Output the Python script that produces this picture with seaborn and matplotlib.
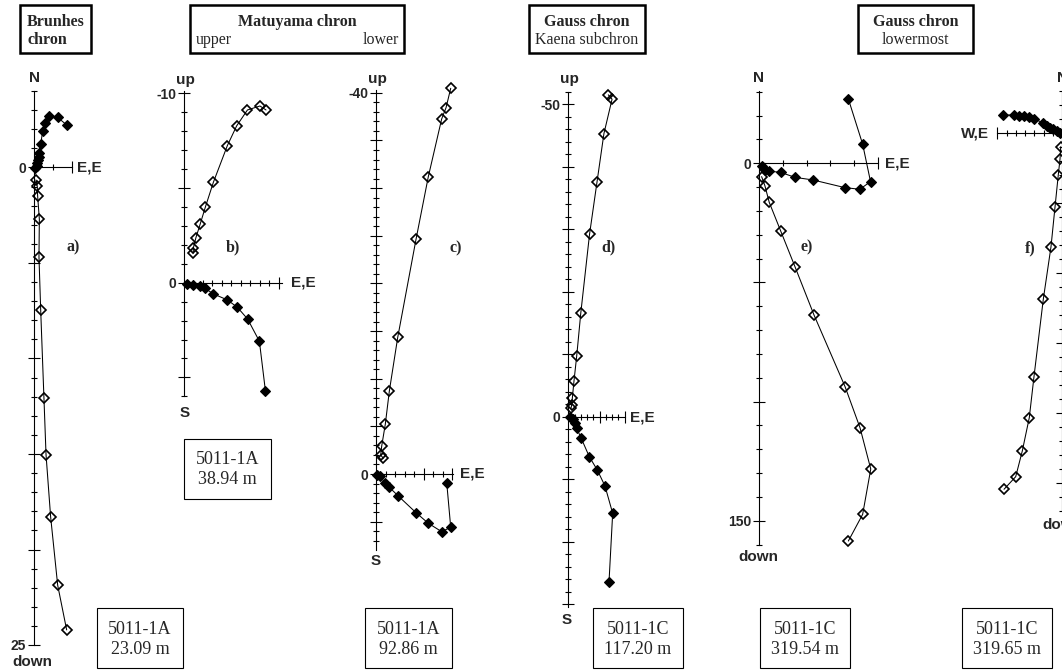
import matplotlib
matplotlib.use("Agg")
import matplotlib.pyplot as plt
from matplotlib.patches import Rectangle
from matplotlib.ticker import FixedLocator
import numpy as np
import seaborn as sns

sns.set_style("white")
plt.rcParams['font.family'] = ['Liberation Sans', 'DejaVu Sans']
SANS = 'Liberation Sans'
SERIF = 'Liberation Serif'

# Zijderveld data, plotted frame: east to the right, y positive downwards
# (filled = horizontal projection, y = -N ; open = vertical projection, y = down)

# a) Brunhes chron, 5011-1A 23.09 m
a_fill_e = [0.05, 0.14, 0.17, 0.21, 0.25, 0.26, 0.35, 0.46, 0.55, 0.81, 1.24, 1.71]
a_fill_y = [0.04, -0.08, -0.22, -0.39, -0.57, -0.77, -1.23, -1.93, -2.35, -2.68, -2.62, -2.23]
a_open_e = [0.10, 0.17, 0.19, 0.28, 0.26, 0.35, 0.52, 0.63, 0.87, 1.24, 1.71]
a_open_y = [0.65, 0.97, 1.48, 2.71, 4.67, 7.46, 12.05, 15.04, 18.28, 21.87, 24.21]

# b) Matuyama upper, 5011-1A 38.94 m
b_fill_e = [0.15, 0.49, 0.84, 1.11, 1.55, 2.29, 2.82, 3.36, 3.98, 4.30]
b_fill_y = [0.05, 0.12, 0.17, 0.30, 0.59, 0.91, 1.30, 1.92, 3.09, 5.72]
b_open_e = [0.49, 0.49, 0.63, 0.85, 1.13, 1.55, 2.29, 2.78, 3.35, 4.01, 4.33]
b_open_y = [-1.56, -1.82, -2.38, -3.08, -4.00, -5.30, -7.24, -8.28, -9.12, -9.33, -9.12]

# c) Matuyama lower, 5011-1A 92.86 m
c_fill_e = [0.15, 0.42, 0.94, 1.40, 2.34, 4.20, 5.49, 6.89, 7.84, 7.42]
c_fill_y = [0.10, 0.21, 0.91, 1.40, 2.31, 4.06, 5.17, 6.05, 5.59, 0.91]
c_open_e = [0.77, 0.49, 0.60, 0.98, 1.40, 2.28, 4.20, 5.49, 6.89, 7.35, 7.84]
c_open_y = [-1.65, -1.99, -2.94, -5.25, -8.71, -14.34, -24.63, -31.2, -37.25, -38.44, -40.47]

# d) Gauss, Kaena subchron, 5011-1C 117.20 m
d_fill_e = [0.27, 0.70, 1.07, 1.34, 2.03, 3.36, 4.64, 5.87, 7.10, 6.51]
d_fill_y = [0.10, 0.42, 1.06, 1.86, 3.36, 6.40, 8.53, 11.09, 15.46, 26.5]
d_open_e = [0.43, 0.54, 0.64, 0.91, 1.35, 2.0, 3.4, 4.6, 5.7, 7.0, 6.4]
d_open_y = [-1.34, -1.87, -2.93, -5.71, -9.76, -16.6, -29.2, -37.6, -45.3, -50.8, -51.5]

# e) Gauss lowermost, 5011-1C 319.54 m
e_fill_e = [1.1, 2.5, 4.3, 9.1, 15.1, 22.7, 36.0, 42.3, 46.8, 43.5, 37.5]
e_fill_y = [1.0, 2.8, 3.3, 3.8, 5.9, 7.0, 10.2, 10.9, 7.7, -8.0, -27.0]
e_open_e = [1.1, 2.5, 4.3, 9.1, 15.1, 23.1, 36.1, 42.4, 46.9, 43.5, 37.5]
e_open_y = [5.6, 9.5, 16.4, 28.4, 43.4, 63.7, 93.7, 111.0, 128.3, 147.3, 158.5]

# f) Gauss lowermost, 5011-1C 319.65 m
f_fill_e = [-0.24, -0.71, -1.20, -1.67, -2.14, -2.71, -3.91, -4.63, -5.39, -6.10, -6.81, -8.34]
f_fill_y = [0.0, -0.24, -0.49, -0.71, -0.96, -1.43, -1.96, -2.20, -2.39, -2.43, -2.53, -2.53]
f_open_e = [-0.14, -0.24, -0.49, -0.96, -1.53, -2.63, -3.96, -4.63, -5.63, -6.57, -8.24]
f_open_y = [2.0, 3.76, 6.04, 10.66, 16.3, 23.8, 34.86, 40.71, 45.47, 49.14, 50.94]

panels = [
    dict(fe=a_fill_e, fy=a_fill_y, oe=a_open_e, oy_=a_open_y,
         ox=34, oy=167.5, s=19.1, v=(-4, 25), h=(0, 2),
         vmaj=np.arange(0, 26, 5), vmin=np.arange(-4, 26, 1),
         hmaj=[2], hmin=[1], vlab=[0, 25]),
    dict(fe=b_fill_e, fy=b_fill_y, oe=b_open_e, oy_=b_open_y,
         ox=184, oy=282.7, s=18.94, v=(-10.1, 6), h=(0, 5.15),
         vmaj=[-10, -5, 0, 5], vmin=np.arange(-10, 7, 1),
         hmaj=[5], hmin=np.arange(0.5, 5.0, 0.5), vlab=[-10, 0]),
    dict(fe=c_fill_e, fy=c_fill_y, oe=c_open_e, oy_=c_open_y,
         ox=376, oy=474, s=9.53, v=(-40.3, 7.95), h=(0, 8.05),
         vmaj=np.arange(-40, 8, 5), vmin=np.arange(-40, 8, 1),
         hmaj=[5, 8], hmin=np.arange(1, 8, 1), vlab=[-40, 0]),
    dict(fe=d_fill_e, fy=d_fill_y, oe=d_open_e, oy_=d_open_y,
         ox=568.3, oy=416.7, s=6.25, v=(-52, 30.4), h=(0, 9.1),
         vmaj=np.arange(-50, 31, 10), vmin=np.arange(-52, 31, 2),
         hmaj=[5, 9], hmin=np.arange(1, 9, 1), vlab=[-50, 0]),
    dict(fe=e_fill_e, fy=e_fill_y, oe=e_open_e, oy_=e_open_y,
         ox=759, oy=163.3, s=2.383, v=(-30.3, 160), h=(0, 50),
         vmaj=[0, 50, 100, 150], vmin=np.arange(-30, 161, 10),
         hmaj=[50], hmin=[10, 20, 30, 40], vlab=[0, 150]),
    dict(fe=f_fill_e, fy=f_fill_y, oe=f_open_e, oy_=f_open_y,
         ox=1061.7, oy=132.7, s=7.0, v=(-6, 54.1), h=(-9.24, 3),
         vmaj=np.arange(10, 51, 10), vmin=np.arange(-6, 55, 2),
         hmaj=[-9.24], hmin=np.arange(-1.3, -9.0, -1.3), vlab=[]),
]

W, H = 1062, 671
fig = plt.figure(figsize=(W / 100, H / 100), dpi=100)


def fx(x):
    return x / W


def fy(y):
    return 1 - y / H


def ftext(x, y, s, **kw):
    fig.text(fx(x), fy(y), s, **kw)


for p in panels:
    ox, oy, s = p['ox'], p['oy'], p['s']
    x0, x1 = p['h']
    y0, y1 = p['v']
    ax = fig.add_axes([fx(ox + x0 * s), fy(oy + y1 * s),
                       (x1 - x0) * s / W, (y1 - y0) * s / H])
    ax.patch.set_visible(False)
    ax.set_xlim(x0, x1)
    ax.set_ylim(y1, y0)

    sns.lineplot(x=p['oe'], y=p['oy_'], ax=ax, sort=False, estimator=None,
                 color='black', lw=0.75, marker='D', markersize=5.4,
                 markerfacecolor='none', markeredgecolor='black',
                 markeredgewidth=1.2, clip_on=False, legend=False)
    sns.lineplot(x=p['fe'], y=p['fy'], ax=ax, sort=False, estimator=None,
                 color='black', lw=0.75, marker='D', markersize=5.6,
                 markerfacecolor='black', markeredgecolor='black',
                 markeredgewidth=0.8, clip_on=False, legend=False)

    for side in ('top', 'right'):
        ax.spines[side].set_visible(False)
    ax.spines['left'].set_position(('data', 0))
    ax.spines['bottom'].set_position(('data', 0))
    ax.spines['left'].set_bounds(y0, y1)
    ax.spines['bottom'].set_bounds(x0, x1)
    for side in ('left', 'bottom'):
        ax.spines[side].set_color('black')
        ax.spines[side].set_linewidth(0.8)

    ax.yaxis.set_major_locator(FixedLocator(p['vmaj']))
    ax.yaxis.set_minor_locator(FixedLocator(p['vmin']))
    ax.xaxis.set_major_locator(FixedLocator(p['hmaj']))
    ax.xaxis.set_minor_locator(FixedLocator(p['hmin']))
    ax.set_yticklabels([('%d' % v if v in p['vlab'] else '') for v in p['vmaj']],
                       fontsize=10, fontweight='bold', family=SANS)
    ax.tick_params(which='both', direction='inout', color='black', width=0.8,
                   left=True, bottom=True, labelbottom=False, pad=1)
    ax.tick_params(which='major', length=9)
    ax.tick_params(which='minor', length=5)
    ax.set_xlabel('')
    ax.set_ylabel('')

# axis end labels
lab = dict(fontsize=11, fontweight='bold', family=SANS, va='center')
for x, y, t, ha in [
    (34, 78, 'N', 'center'), (77, 167.5, 'E,E', 'left'), (32, 662, 'down', 'center'),
    (185, 80, 'up', 'center'), (291, 282.7, 'E,E', 'left'), (185, 413, 'S', 'center'),
    (377, 79, 'up', 'center'), (460, 474, 'E,E', 'left'), (376, 561, 'S', 'center'),
    (569, 79, 'up', 'center'), (630, 417, 'E,E', 'left'), (567, 620, 'S', 'center'),
    (758, 78, 'N', 'center'), (885, 164, 'E,E', 'left'), (758, 557, 'down', 'center'),
    (1062, 78, 'N', 'center'), (989, 133, 'W,E', 'right'), (1062, 525, 'down', 'center'),
]:
    ftext(x, y, t, ha=ha, **lab)

# panel letters
for x, y, t in [(73, 247, 'a)'), (233, 247, 'b)'), (456, 248, 'c)'),
                (608, 247, 'd)'), (807, 247, 'e)'), (1030, 248, 'f)')]:
    ftext(x, y, t, ha='center', va='center', fontsize=11.5, fontweight='bold', family=SERIF)


def box(x0, y0, x1, y1, lw):
    fig.add_artist(Rectangle((fx(x0), fy(y1)), (x1 - x0) / W, (y1 - y0) / H,
                             transform=fig.transFigure, fill=False,
                             edgecolor='black', lw=lw))


# chron header boxes
hb = dict(fontsize=11.5, family=SERIF, va='center')
box(20, 5, 91, 53, 1.8)
ftext(27, 22, 'Brunhes', ha='left', fontweight='bold', **hb)
ftext(27, 40, 'chron', ha='left', fontweight='bold', **hb)
box(190, 5, 404, 53, 1.8)
ftext(297, 22, 'Matuyama chron', ha='center', fontweight='bold', **hb)
ftext(196, 40, 'upper', ha='left', **hb)
ftext(399, 40, 'lower', ha='right', **hb)
box(529, 5, 645, 53, 1.8)
ftext(587, 22, 'Gauss chron', ha='center', fontweight='bold', **hb)
ftext(587, 40, 'Kaena subchron', ha='center', **hb)
box(858, 5, 973, 53, 1.8)
ftext(915.5, 22, 'Gauss chron', ha='center', fontweight='bold', **hb)
ftext(915.5, 40, 'lowermost', ha='center', **hb)

# sample boxes
sb = dict(fontsize=13, family=SERIF, ha='center', va='center')
for x0, y0, x1, y1, t1, t2 in [
    (97, 608, 183, 668, '5011-1A', '23.09 m'),
    (184, 439, 271, 499, '5011-1A', '38.94 m'),
    (365, 608, 452, 668, '5011-1A', '92.86 m'),
    (593, 608, 683, 668, '5011-1C', '117.20 m'),
    (760, 608, 850, 668, '5011-1C', '319.54 m'),
    (962, 608, 1052, 668, '5011-1C', '319.65 m'),
]:
    box(x0, y0, x1, y1, 0.8)
    ftext((x0 + x1) / 2, y0 + 21, t1, **sb)
    ftext((x0 + x1) / 2, y0 + 41, t2, **sb)

fig.savefig('out.png', dpi=100)
